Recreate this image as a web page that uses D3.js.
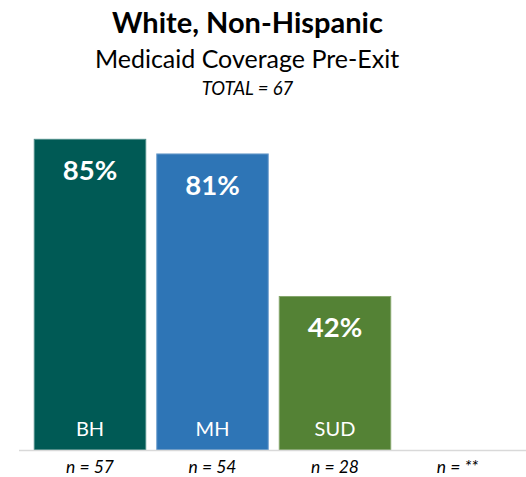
<!DOCTYPE html>
<html><head><meta charset="utf-8">
<script src="https://cdn.jsdelivr.net/npm/d3@7"></script>
<style>html,body{margin:0;padding:0;background:#fff;}svg{display:block;}</style>
</head><body><svg id="c" width="526" height="477"></svg>
<script>
const categories = ["BH", "MH", "SUD", ""];
const values = [85, 81, 42, null];
const nLabels = ["n = 57", "n = 54", "n = 28", "n = **"];
const colors = ["#005A55", "#2E75B6", "#548235", "#999999"];
const strokes = ["#4C8C88", "#6D9DCC", "#86A66C", "#999999"];
const title = "White, Non-Hispanic";
const subtitle = "Medicaid Coverage Pre-Exit";
const totalLabel = "TOTAL = 67";

const FONT = "Lato, 'Open Sans', sans-serif";
const svg = d3.select("#c");
const baseY = 450;
const x = d3.scaleBand().domain(d3.range(categories.length)).range([28.75, 518.75]).paddingInner(0.09).paddingOuter(0.045);
const y = d3.scaleLinear().domain([0, 100]).range([baseY, 84.5]);

svg.append("text").attr("x", 247.5).attr("y", 33).attr("text-anchor", "middle")
  .attr("font-family", FONT).attr("font-weight", 700).attr("font-size", 29).attr("fill", "#000").text(title);
svg.append("text").attr("x", 247).attr("y", 68).attr("text-anchor", "middle")
  .attr("font-family", FONT).attr("font-size", 25).attr("fill", "#000").text(subtitle);
svg.append("text").attr("x", 247.5).attr("y", 95).attr("text-anchor", "middle")
  .attr("font-family", FONT).attr("font-style", "italic").attr("font-size", 18.5).attr("fill", "#000").text(totalLabel);

const data = categories.map((c, i) => ({c, v: values[i], n: nLabels[i], i}));
const bars = data.filter(d => d.v != null);

svg.selectAll("rect.bar").data(bars).join("rect").attr("class", "bar")
  .attr("x", d => x(d.i)).attr("width", x.bandwidth())
  .attr("y", d => y(d.v)).attr("height", d => y(0) - y(d.v))
  .attr("fill", d => colors[d.i]).attr("stroke", d => strokes[d.i]).attr("stroke-width", 1);

svg.selectAll("text.val").data(bars).join("text").attr("class", "val")
  .attr("x", d => x(d.i) + x.bandwidth() / 2).attr("y", d => y(d.v) + 41)
  .attr("text-anchor", "middle").attr("font-family", FONT).attr("font-weight", 700)
  .attr("font-size", 27.5).attr("fill", "#fff").text(d => d.v + "%");

svg.selectAll("text.cat").data(bars).join("text").attr("class", "cat")
  .attr("x", d => x(d.i) + x.bandwidth() / 2).attr("y", 436)
  .attr("text-anchor", "middle").attr("font-family", FONT)
  .attr("font-size", 20).attr("fill", "#fff").text(d => d.c);

svg.append("line").attr("x1", 19).attr("x2", 526).attr("y1", baseY + 0.5).attr("y2", baseY + 0.5)
  .attr("stroke", "#D9D9D9").attr("stroke-width", 1.5);

svg.selectAll("text.n").data(data).join("text").attr("class", "n")
  .attr("x", d => x(d.i) + x.bandwidth() / 2).attr("y", 472.5)
  .attr("text-anchor", "middle").attr("font-family", FONT).attr("font-style", "italic")
  .attr("font-size", 17.5).attr("fill", "#000").text(d => d.n);
</script></body></html>
